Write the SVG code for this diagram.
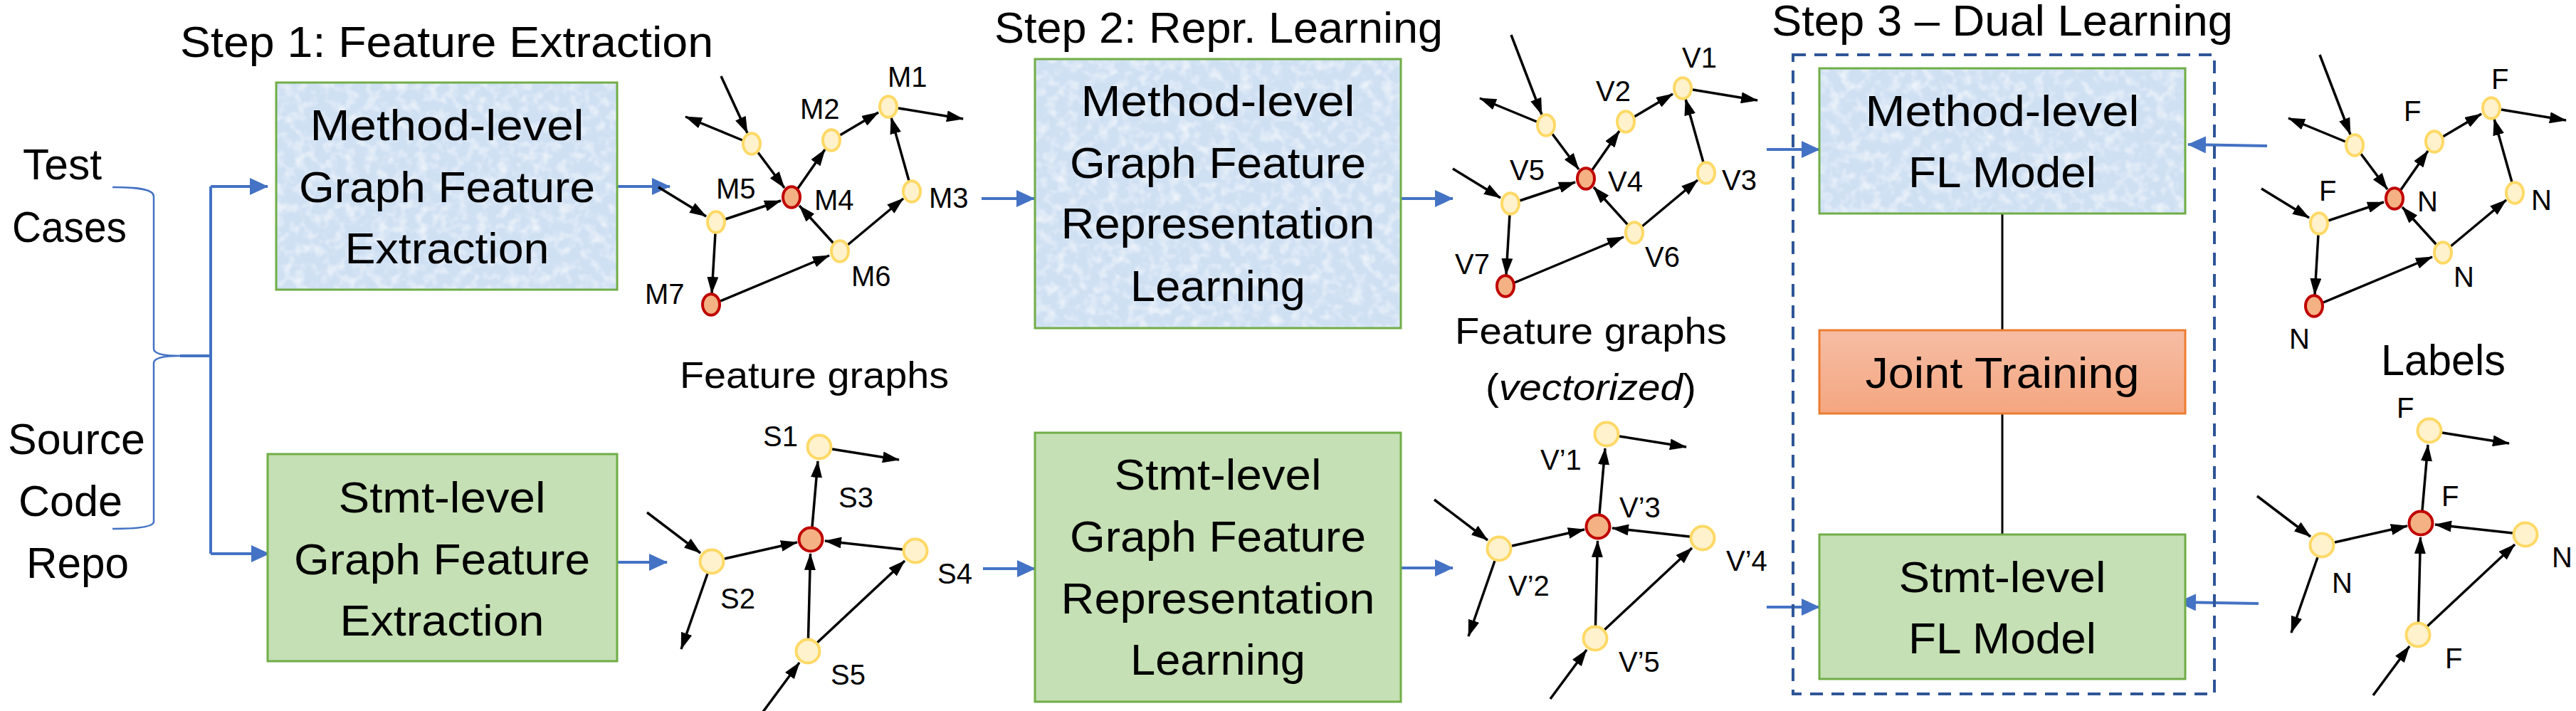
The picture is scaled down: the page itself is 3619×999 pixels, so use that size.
<svg xmlns="http://www.w3.org/2000/svg" width="3619" height="999" viewBox="0 0 3619 999">
<defs>
<style>
text{font-family:"Liberation Sans",Arial,sans-serif;fill:#000}
.big{font-size:62px}
.mid{font-size:52px}
.lbl{font-size:40px}
.c{text-anchor:middle}
.bluefill{fill:#CFE0F3}
.frame{fill:none;stroke:#70AD47;stroke-width:3}
.green{fill:#C5E0B4;stroke:#70AD47;stroke-width:3}
.e{stroke:#000;stroke-width:3.5;fill:none;marker-end:url(#ah)}
.b{stroke:#4472C4;stroke-width:4;fill:none}
.ba{marker-end:url(#bah)}
.yn{fill:#FFF2CC;stroke:#FFD966;stroke-width:4}
.rn{fill:#F4B183;stroke:#C00000;stroke-width:4}
</style>
<marker id="ah" markerUnits="userSpaceOnUse" markerWidth="24" markerHeight="16" refX="23" refY="8" orient="auto"><path d="M0,0 L24,8 L0,16 z" fill="#000"/></marker>
<marker id="bah" markerUnits="userSpaceOnUse" markerWidth="26" markerHeight="24" refX="25" refY="12" orient="auto"><path d="M0,0 L26,12 L0,24 z" fill="#4472C4"/></marker>
<linearGradient id="jt" x1="0" y1="0" x2="0" y2="1"><stop offset="0" stop-color="#F6BDA4"/><stop offset="1" stop-color="#F4A680"/></linearGradient>
<filter id="paper" x="0" y="0" width="1" height="1">
<feTurbulence type="fractalNoise" baseFrequency="0.07" numOctaves="2" seed="7" result="n"/>
<feColorMatrix in="n" type="matrix" values="0 0 0 0 1  0 0 0 0 1  0 0 0 0 1  1.4 0 0 0 -0.62" result="w"/>
<feComposite in="w" in2="SourceGraphic" operator="in" result="wm"/>
<feComposite in="wm" in2="SourceGraphic" operator="over"/>
</filter>
<g id="mg-core">
<path class="e" d="M1043,197 L963,164"/>
<path class="e" d="M1064,213 L1102,264"/>
<path class="e" d="M1120,266 L1159,210"/>
<path class="e" d="M1180,190 L1234,158"/>
<path class="e" d="M1262,152 L1353,167"/>
<path class="e" d="M1277,254 L1252,165"/>
<path class="e" d="M1191,344 L1269,279"/>
<path class="e" d="M1172,343 L1123,289"/>
<path class="e" d="M1019,308 L1097,282"/>
<path class="e" d="M925,263 L992,304"/>
<path class="e" d="M1005,327 L1000,412"/>
<path class="e" d="M1012,423 L1165,359"/>
<ellipse class="yn" cx="1056" cy="202" rx="12" ry="14.7"/>
<ellipse class="yn" cx="1248" cy="150" rx="12" ry="14.7"/>
<ellipse class="yn" cx="1168" cy="197" rx="12" ry="14.7"/>
<ellipse class="yn" cx="1281" cy="269" rx="12" ry="14.7"/>
<ellipse class="yn" cx="1006" cy="312" rx="12" ry="14.7"/>
<ellipse class="yn" cx="1180" cy="353" rx="12" ry="14.7"/>
<ellipse class="rn" cx="1112" cy="277" rx="12" ry="14.7"/>
<ellipse class="rn" cx="999" cy="428" rx="12" ry="14.7"/>
</g>
<g id="sg-core">
<path class="e" d="M1169,631 L1263,646"/>
<path class="e" d="M1141,740 L1149,648"/>
<path class="e" d="M909,720 L984,777"/>
<path class="e" d="M994,806 L957,912"/>
<path class="e" d="M1018,785 L1120,762"/>
<path class="e" d="M1268,772 L1159,760"/>
<path class="e" d="M1135.5,897 L1138.5,778"/>
<path class="e" d="M1148,903 L1271,788"/>
<path class="e" d="M1072,1000 L1123,931"/>
<circle class="yn" cx="1151" cy="628" r="16.5"/>
<circle class="yn" cx="1000" cy="789" r="16.5"/>
<circle class="yn" cx="1286" cy="774" r="16.5"/>
<circle class="yn" cx="1135" cy="915" r="16.5"/>
<circle class="rn" cx="1139" cy="758" r="16.5"/>
</g>
</defs>
<rect width="3619" height="999" fill="#fff"/>

<g id="titles" class="big">
<text x="253" y="80" textLength="749" lengthAdjust="spacingAndGlyphs">Step 1: Feature Extraction</text>
<text x="1397" y="60" textLength="630" lengthAdjust="spacingAndGlyphs">Step 2: Repr. Learning</text>
<text x="2489" y="50" textLength="648" lengthAdjust="spacingAndGlyphs">Step 3 – Dual Learning</text>
</g>

<g id="inputs" class="big">
<text x="32" y="252" textLength="111" lengthAdjust="spacingAndGlyphs">Test</text>
<text x="17" y="340" textLength="161" lengthAdjust="spacingAndGlyphs">Cases</text>
<text x="11" y="638" textLength="193" lengthAdjust="spacingAndGlyphs">Source</text>
<text x="26" y="725" textLength="146" lengthAdjust="spacingAndGlyphs">Code</text>
<text x="37" y="812" textLength="144" lengthAdjust="spacingAndGlyphs">Repo</text>
</g>

<g id="connectors">
<path d="M158,263 C195,263 216,266 216,276 L216,490 C216,497 230,500 253,500 C230,500 216,503 216,510 L216,733 C216,740 195,743 158,743" fill="none" stroke="#4472C4" stroke-width="2.5"/>
<path class="b" d="M253,500 H296 M296,262 V778"/>
<path class="b ba" d="M296,262 H376"/>
<path class="b ba" d="M296,778 H378"/>
<path class="b ba" d="M867,262 H941"/>
<path class="b ba" d="M1379,279 H1453"/>
<path class="b ba" d="M1968,279 H2041"/>
<path class="b ba" d="M2482,210 H2556"/>
<path class="b ba" d="M867,790 H937"/>
<path class="b ba" d="M1381,799 H1454"/>
<path class="b ba" d="M1968,798 H2041"/>
<path class="b ba" d="M2482,853 H2556"/>
<path class="b ba" d="M3185,205 L3074,203"/>
<path class="b ba" d="M3173,848 L3060,846"/>
<path d="M2813,300 V464 M2813,581 V751" stroke="#000" stroke-width="3" fill="none"/>
</g>

<g id="method-extraction">
<rect class="bluefill" filter="url(#paper)" x="388" y="116" width="479" height="291"/>
<rect class="frame" x="388" y="116" width="479" height="291"/>
<g class="big c">
<text x="628" y="197" textLength="385" lengthAdjust="spacingAndGlyphs">Method-level</text>
<text x="628" y="284" textLength="416" lengthAdjust="spacingAndGlyphs">Graph Feature</text>
<text x="628" y="370" textLength="287" lengthAdjust="spacingAndGlyphs">Extraction</text>
</g>
</g>

<g id="stmt-extraction">
<rect class="green" x="376" y="638" width="491" height="291"/>
<g class="big c">
<text x="621" y="720" textLength="291" lengthAdjust="spacingAndGlyphs">Stmt-level</text>
<text x="621" y="807" textLength="416" lengthAdjust="spacingAndGlyphs">Graph Feature</text>
<text x="621" y="893" textLength="287" lengthAdjust="spacingAndGlyphs">Extraction</text>
</g>
</g>

<g id="method-repr">
<rect class="bluefill" filter="url(#paper)" x="1454" y="83" width="514" height="378"/>
<rect class="frame" x="1454" y="83" width="514" height="378"/>
<g class="big c">
<text x="1711" y="163" textLength="385" lengthAdjust="spacingAndGlyphs">Method-level</text>
<text x="1711" y="250" textLength="416" lengthAdjust="spacingAndGlyphs">Graph Feature</text>
<text x="1711" y="335" textLength="441" lengthAdjust="spacingAndGlyphs">Representation</text>
<text x="1711" y="423" textLength="246" lengthAdjust="spacingAndGlyphs">Learning</text>
</g>
</g>

<g id="stmt-repr">
<rect class="green" x="1454" y="608" width="514" height="378"/>
<g class="big c">
<text x="1711" y="688" textLength="291" lengthAdjust="spacingAndGlyphs">Stmt-level</text>
<text x="1711" y="775" textLength="416" lengthAdjust="spacingAndGlyphs">Graph Feature</text>
<text x="1711" y="862" textLength="441" lengthAdjust="spacingAndGlyphs">Representation</text>
<text x="1711" y="948" textLength="246" lengthAdjust="spacingAndGlyphs">Learning</text>
</g>
</g>

<g id="dual-learning">
<rect x="2519" y="77" width="592" height="898" fill="none" stroke="#2F5597" stroke-width="4" stroke-dasharray="18 12"/>
</g>

<g id="method-fl">
<rect class="bluefill" filter="url(#paper)" x="2556" y="96" width="514" height="204"/>
<rect class="frame" x="2556" y="96" width="514" height="204"/>
<g class="big c">
<text x="2813" y="177" textLength="385" lengthAdjust="spacingAndGlyphs">Method-level</text>
<text x="2813" y="263" textLength="264" lengthAdjust="spacingAndGlyphs">FL Model</text>
</g>
</g>

<g id="joint-training">
<rect x="2556" y="464" width="514" height="117" fill="url(#jt)" stroke="#ED7D31" stroke-width="3"/>
<text class="big c" x="2813" y="545" textLength="385" lengthAdjust="spacingAndGlyphs">Joint Training</text>
</g>

<g id="stmt-fl">
<rect class="green" x="2556" y="751" width="514" height="203"/>
<g class="big c">
<text x="2813" y="832" textLength="291" lengthAdjust="spacingAndGlyphs">Stmt-level</text>
<text x="2813" y="918" textLength="264" lengthAdjust="spacingAndGlyphs">FL Model</text>
</g>
</g>

<g id="graph-method">
<path class="e" d="M1013,107 L1050,187"/>
<use href="#mg-core"/>
<g class="lbl">
<text x="1247" y="122">M1</text><text x="1124" y="167">M2</text><text x="1305" y="292">M3</text>
<text x="1144" y="295">M4</text><text x="1006" y="279">M5</text><text x="1196" y="402">M6</text>
<text x="906" y="427">M7</text>
</g>
</g>

<g id="graph-stmt">
<use href="#sg-core"/>
<g class="lbl">
<text x="1072" y="627">S1</text><text x="1178" y="713">S3</text><text x="1012" y="855">S2</text>
<text x="1317" y="820">S4</text><text x="1167" y="962">S5</text>
</g>
</g>

<text id="fg1" class="mid" x="955" y="545" textLength="378" lengthAdjust="spacingAndGlyphs">Feature graphs</text>

<g id="graph-method-vec">
<path class="e" d="M2123,49 L2166,161"/>
<use href="#mg-core" transform="translate(1116,-26)"/>
<g class="lbl">
<text x="2363" y="95">V1</text><text x="2242" y="142">V2</text><text x="2419" y="267">V3</text>
<text x="2259" y="269">V4</text><text x="2121" y="253">V5</text><text x="2311" y="375">V6</text>
<text x="2044" y="385">V7</text>
</g>
</g>

<g id="fg2">
<text class="mid" x="2044" y="483" textLength="382" lengthAdjust="spacingAndGlyphs">Feature graphs</text>
<text class="mid" x="2087" y="562" textLength="296" lengthAdjust="spacingAndGlyphs">(<tspan font-style="italic">vectorized</tspan>)</text>
</g>

<g id="graph-stmt-vec">
<use href="#sg-core" transform="translate(1106,-18)"/>
<g class="lbl">
<text x="2164" y="660">V’1</text><text x="2275" y="727">V’3</text><text x="2119" y="837">V’2</text>
<text x="2425" y="802">V’4</text><text x="2274" y="944">V’5</text>
</g>
</g>

<g id="graph-method-labels">
<path class="e" d="M3259,77 L3302,189"/>
<use href="#mg-core" transform="translate(2252,2)"/>
<g class="lbl">
<text x="3377" y="170">F</text><text x="3500" y="125">F</text><text x="3396" y="297">N</text>
<text x="3258" y="282">F</text><text x="3556" y="295">N</text><text x="3447" y="403">N</text>
<text x="3216" y="490">N</text>
</g>
</g>

<text id="labels-title" class="big" x="3345" y="527" textLength="175" lengthAdjust="spacingAndGlyphs">Labels</text>

<g id="graph-stmt-labels">
<use href="#sg-core" transform="translate(2262,-23)"/>
<g class="lbl">
<text x="3367" y="587">F</text><text x="3430" y="711">F</text><text x="3276" y="833">N</text>
<text x="3585" y="797">N</text><text x="3435" y="939">F</text>
</g>
</g>
</svg>
